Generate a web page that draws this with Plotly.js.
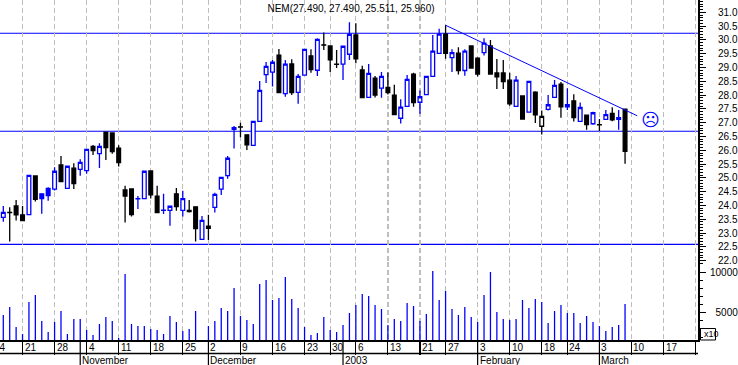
<!DOCTYPE html>
<html><head><meta charset="utf-8">
<script src="https://cdn.plot.ly/plotly-3.0.1.min.js"></script>
<style>html,body{margin:0;padding:0;background:#fff}</style></head>
<body><div id="c" style="width:738px;height:365px"></div>
<script>
const opens=[23.57,23.75,23.98,23.66,23.67,25.07,24.42,24.62,24.59,25.47,24.62,25.35,25.31,25.26,26.14,25.88,26.66,26.63,26.08,24.56,24.60,24.24,24.25,25.25,24.34,23.82,23.82,24.42,23.82,23.82,23.95,22.77,23.17,23.93,24.59,25.08,26.76,26.85,26.56,26.18,27.05,28.74,28.83,29.45,28.05,29.13,28.10,28.72,29.42,28.90,29.82,29.78,29.12,29.12,29.48,30.18,28.91,27.92,28.61,28.25,28.28,28.00,27.16,27.59,28.76,27.74,28.02,28.68,29.51,30.21,29.36,29.52,28.89,29.78,29.34,29.54,29.78,28.80,28.80,28.54,27.59,27.97,27.38,28.11,26.87,27.48,27.92,28.40,27.57,27.79,27.05,27.27,26.96,26.93,27.12,27.34,27.12,27.49];
const highs=[23.98,23.93,24.20,23.98,25.09,25.07,24.42,24.66,25.38,25.79,25.42,25.53,25.67,26.03,26.19,26.25,26.66,26.63,26.18,24.71,24.62,24.34,25.24,25.25,24.71,24.42,23.98,24.63,24.53,24.20,23.95,23.62,23.66,24.46,25.03,25.79,26.88,27.00,26.56,27.07,28.51,29.20,29.27,29.67,29.27,29.30,28.76,29.66,29.66,30.06,30.27,29.78,29.63,29.77,30.64,30.60,29.06,29.13,28.69,28.84,28.82,28.37,27.85,28.73,28.81,28.17,28.68,30.18,30.40,30.53,29.66,29.73,29.66,29.79,29.37,30.06,30.00,29.31,29.27,28.81,28.69,27.97,28.50,28.14,27.44,28.00,28.55,28.47,28.25,28.03,27.73,27.28,27.40,27.13,27.46,27.56,27.46,27.49];
const lows=[23.41,22.69,23.45,23.44,23.67,24.14,23.70,24.17,24.54,24.86,24.61,24.60,25.08,25.15,25.83,25.36,25.65,25.87,25.41,23.38,23.60,23.87,24.25,24.25,23.74,23.69,23.26,23.81,23.60,23.74,22.69,22.77,22.75,23.74,24.38,24.97,26.06,26.47,26.01,26.18,27.05,28.44,28.31,28.09,27.94,28.00,27.69,28.70,28.81,28.69,29.63,28.84,28.98,28.55,29.27,29.15,27.91,27.91,27.91,27.90,28.02,27.29,26.97,27.58,27.58,27.32,28.02,28.68,29.51,29.32,28.84,28.75,28.70,28.95,28.67,29.43,28.76,28.22,28.22,27.61,27.58,27.13,27.37,26.99,26.57,27.44,27.90,27.18,27.46,27.04,27.04,26.74,26.92,26.69,27.11,27.05,26.74,25.511];
const closes=[23.75,23.74,23.66,23.45,25.09,24.22,24.25,24.36,25.24,24.86,25.42,24.79,25.56,26.03,25.99,26.14,26.10,25.95,25.55,24.34,23.67,24.25,25.24,24.38,23.74,23.83,23.97,23.96,24.25,23.78,23.16,23.46,23.25,24.40,25.02,25.71,26.82,26.84,26.20,27.05,28.17,29.04,29.19,28.09,29.12,28.09,28.68,29.66,28.92,30.02,29.81,29.28,29.11,29.77,30.20,29.31,27.91,28.79,28.00,28.68,28.09,27.29,27.56,28.57,27.73,27.94,28.68,29.59,30.21,29.51,29.54,28.89,29.59,28.98,28.76,29.88,28.76,28.66,28.49,27.68,28.54,27.13,28.50,27.28,27.23,27.65,28.35,27.57,27.65,27.18,27.55,26.93,27.36,26.92,27.29,27.10,27.18,25.96];
const volumes=[4717,5700,3243,2383,6314,7174,3980,2629,3857,5209,2383,4226,4226,2874,2260,3612,4472,3980,1892,9754,3612,3366,3366,2997,2874,2383,4594,3857,2752,2997,5209,1500,3366,3980,5577,5209,8034,4594,4103,3612,8526,9017,6560,6806,9386,6683,5577,3243,2260,2506,4472,2874,2629,3489,4963,5946,7297,7051,5946,5454,3489,4226,3980,6191,5823,3980,4840,10123,6560,7666,5454,4717,5700,4472,3857,7174,10000,5086,4226,4103,4226,6560,5577,6683,6314,3734,5209,5946,4963,4963,3734,4594,3857,3366,2752,3243,3489,6069];
const altCandles=[6,7,32,84];
const weekTicks=[3,8,13,18,23,28,32,37,42,47,51,55,60,65,69,74,79,84,88,93,98,103,108];
const weekLabels=['21','28','4','11','18','25','2','9','16','23','30','6','13','21','27','3','10','18','24','3','10','17'];
const monthTicks=[12,32,53,74,93];
const monthLabels=['November','December','2003','February','March'];
const levels=[30.24,26.69,22.59];
const trendX=[69,98.9], trendY=[30.53,27.25];
const priceTicks=[22,22.5,23,23.5,24,24.5,25,25.5,26,26.5,27,27.5,28,28.5,29,29.5,30,30.5,31];
const volTicks=[5000,10000];
const volLabels=['\u20075000','10000'];
const titleText='NEM(27.490, 27.490, 25.511, 25.960)';

const BLUE='#0000ff', FONT='Liberation Sans, Arial, sans-serif';
const PW=698, PH=340;
const xr=[-0.515,108.38];
const idx=opens.map((_,i)=>i);
const isAlt=i=>altCandles.includes(i);
const pick=(a,f)=>idx.filter(f).map(i=>a[i]);
function candle(f,incCol,incFill,decCol,decFill){return{type:'candlestick',xaxis:'x',yaxis:'y',
 x:idx.filter(f),open:pick(opens,f),high:pick(highs,f),low:pick(lows,f),close:pick(closes,f),
 increasing:{line:{color:incCol,width:1.3},fillcolor:incFill},decreasing:{line:{color:decCol,width:1.3},fillcolor:decFill},
 whiskerwidth:0,showlegend:false,hoverinfo:'skip'};}
const data=[
 {type:'bar',x:idx,y:volumes,xaxis:'x',yaxis:'y2',width:0.2,marker:{color:BLUE,line:{width:0}},showlegend:false,hoverinfo:'skip'},
 candle(i=>!isAlt(i),BLUE,'#fff','#000','#000'),
 candle(isAlt,'#000','#fff',BLUE,BLUE),
 {type:'scatter',mode:'lines',x:trendX,y:trendY,xaxis:'x',yaxis:'y',line:{color:BLUE,width:1},showlegend:false,hoverinfo:'skip'}
];
const py=p=>(PH-p)/PH;
const annFont={family:FONT,size:10,color:'#000'};
const annotations=[];
weekLabels.forEach((t,k)=>annotations.push({xref:'x',yref:'paper',x:weekTicks[k],y:py(347),text:t,showarrow:false,xanchor:'left',yanchor:'middle',xshift:0,font:annFont}));
annotations.push({xref:'paper',yref:'paper',x:-8.5/PW,y:py(347),text:'14',showarrow:false,xanchor:'left',yanchor:'middle',font:annFont});
monthLabels.forEach((t,k)=>annotations.push({xref:'x',yref:'paper',x:monthTicks[k],y:py(360.5),text:t,showarrow:false,xanchor:'left',yanchor:'middle',xshift:0,font:annFont}));
annotations.push({xref:'x',yref:'y',x:100.9,y:27.12,text:'\u2639',showarrow:false,font:{family:'DejaVu Sans',size:18,color:BLUE}});
annotations.push({xref:'paper',yref:'paper',x:702/PW,y:py(334),text:'x10',showarrow:false,xanchor:'left',yanchor:'middle',font:{family:FONT,size:9,color:'#000'}});
const shapes=[];
levels.forEach(l=>shapes.push({type:'line',xref:'x',yref:'y',x0:xr[0],x1:xr[1],y0:l,y1:l,layer:'below',line:{color:BLUE,width:1.1}}));
shapes.push({type:'line',xref:'paper',yref:'paper',x0:0,x1:1,y0:py(353.5),y1:py(353.5),line:{color:'#000',width:1.3}});
monthTicks.forEach(m=>shapes.push({type:'line',xref:'x',yref:'paper',x0:m,x1:m,y0:py(340),y1:py(366),line:{color:'#000',width:1.2}}));
shapes.push({type:'rect',xref:'paper',yref:'paper',x0:700.5/PW,x1:715.5/PW,y0:py(340),y1:py(328.5),line:{color:'#000',width:1}});
const axTick={ticks:'outside',tickcolor:'#000',showline:true,linecolor:'#000',linewidth:2,tickfont:{family:FONT,size:10,color:'#000'},zeroline:false,showgrid:false};
const layout={width:738,height:365,margin:{l:0,r:40,t:0,b:25,pad:0},paper_bgcolor:'#fff',plot_bgcolor:'#fff',
 title:{text:titleText,x:351/738,y:1-8/365,xanchor:'center',yanchor:'middle',font:{family:FONT,size:10,color:'#000'}},
 showlegend:false,boxmode:'overlay',boxgap:0.42,boxgroupgap:0,
 xaxis:{range:xr,anchor:'y2',tickmode:'array',tickvals:weekTicks,ticktext:weekTicks.map(()=>''),ticks:'outside',ticklen:13,tickwidth:1.2,tickcolor:'#000',
  showline:true,linecolor:'#000',linewidth:2,showgrid:true,gridcolor:'#bdbdbd',griddash:'5px,3px',gridwidth:1.3,zeroline:false,rangeslider:{visible:false},fixedrange:true},
 yaxis:Object.assign({},axTick,{domain:[78/340,1],range:[21.95,31.446],side:'right',anchor:'x',tickmode:'array',tickvals:priceTicks,ticktext:priceTicks.map(v=>v.toFixed(1)),ticklen:6,ticklabelstandoff:10,
  minor:{ticks:'outside',ticklen:3,dtick:0.1,tick0:0,tickcolor:'#000',showgrid:false},fixedrange:true}),
 yaxis2:Object.assign({},axTick,{domain:[0,78/340],range:[1646,11228],side:'right',anchor:'x',tickmode:'array',tickvals:volTicks,ticktext:volLabels,ticklen:6,ticklabelstandoff:2,
  minor:{ticks:'outside',ticklen:3,dtick:1000,tick0:0,tickcolor:'#000',showgrid:false},fixedrange:true}),
 annotations:annotations,shapes:shapes};
Plotly.newPlot('c',data,layout,{displayModeBar:false,staticPlot:true});
</script></body></html>
